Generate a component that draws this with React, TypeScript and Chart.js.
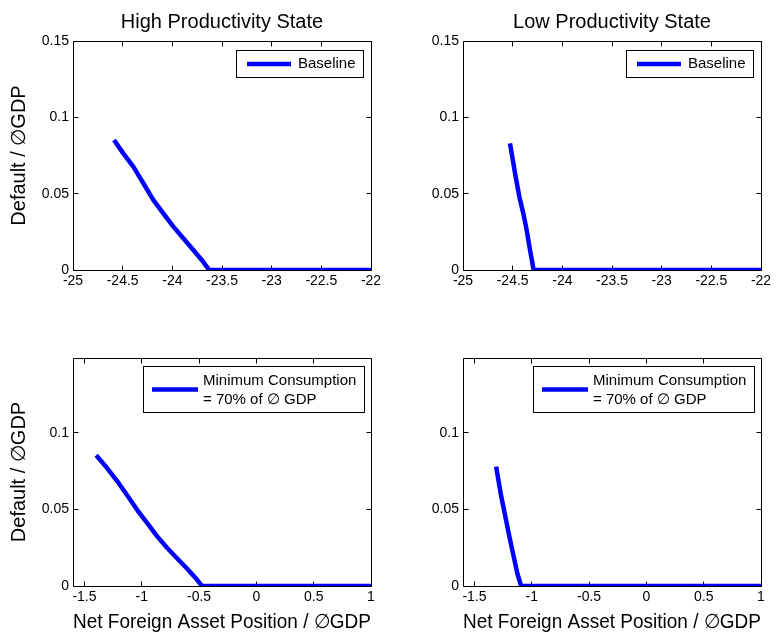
import { useEffect, useRef } from "react";
import { Chart, registerables } from "chart.js";

Chart.register(...registerables);

const FONT = '"Liberation Sans", Arial, Helvetica, sans-serif';
const BLUE = "#0000ff";

// ---- text ----
const TITLES = ["High Productivity State", "Low Productivity State"];
const Y_LABEL = "Default / \u2205GDP";
const X_LABEL = "Net Foreign Asset Position / \u2205GDP";
const LEGEND_TOP = ["Baseline"];
const LEGEND_BOTTOM = ["Minimum Consumption", "= 70% of \u2205 GDP"];

// ---- ticks ----
const X_TICKS_TOP = [-25, -24.5, -24, -23.5, -23, -22.5, -22];
const X_TICKS_BOTTOM = [-1.5, -1, -0.5, 0, 0.5, 1];
const Y_TICKS_TOP = [0, 0.05, 0.1, 0.15];
const Y_TICKS_BOTTOM = [0, 0.05, 0.1];

// ---- data ----
const HIGH_BASE_X = [-24.587, -24.494, -24.393, -24.292, -24.192, -24.091, -23.99, -23.89, -23.789, -23.704, -23.638, -23.63, -22];
const HIGH_BASE_Y = [0.0852, 0.0764, 0.0677, 0.0568, 0.0459, 0.0371, 0.0284, 0.0208, 0.0131, 0.0066, 0.0007, 0, 0];

const LOW_BASE_X = [-24.527, -24.476, -24.433, -24.393, -24.359, -24.325, -24.292, -24.29, -22];
const LOW_BASE_Y = [0.083, 0.0633, 0.048, 0.0371, 0.0262, 0.0131, 0.001, 0, 0];

const HIGH_MIN_X = [-1.398, -1.303, -1.201, -1.114, -1.041, -0.954, -0.867, -0.78, -0.693, -0.606, -0.519, -0.475, 1];
const HIGH_MIN_Y = [0.0854, 0.0771, 0.0672, 0.0578, 0.0498, 0.0412, 0.0326, 0.025, 0.0181, 0.0114, 0.0042, 0, 0];

const LOW_MIN_X = [-1.311, -1.27, -1.235, -1.2, -1.16, -1.125, -1.093, 1];
const LOW_MIN_Y = [0.078, 0.06, 0.047, 0.034, 0.02, 0.008, 0, 0];

type Geo = { right: number; top: number; height: number; padL: number; line: number; gap: number; padR: number; lh: number; dy: number };

const framePlugin = {
  id: "frame",
  beforeDatasetsDraw(chart: any) {
    const { ctx, chartArea: a, scales } = chart;
    const L = Math.floor(a.left) + 0.5;
    const R = Math.floor(a.right) + 0.5;
    const T = Math.floor(a.top) + 0.5;
    const B = Math.floor(a.bottom) + 0.5;
    const tl = 5;
    ctx.save();
    ctx.strokeStyle = "#000";
    ctx.lineWidth = 1;
    ctx.beginPath();
    ctx.rect(L, T, R - L, B - T);
    for (const t of scales.x.ticks) {
      const px = Math.floor(scales.x.getPixelForValue(t.value)) + 0.5;
      ctx.moveTo(px, B);
      ctx.lineTo(px, B - tl);
      ctx.moveTo(px, T);
      ctx.lineTo(px, T + tl);
    }
    for (const t of scales.y.ticks) {
      const py = Math.floor(scales.y.getPixelForValue(t.value)) + 0.5;
      ctx.moveTo(L, py);
      ctx.lineTo(L + tl, py);
      ctx.moveTo(R, py);
      ctx.lineTo(R - tl, py);
    }
    ctx.stroke();
    ctx.restore();
  },
};

function legendPlugin(lines: string[], g: Geo) {
  return {
    id: "boxLegend",
    afterDraw(chart: any) {
      const { ctx, chartArea: a } = chart;
      ctx.save();
      ctx.font = `15px ${FONT}`;
      const tw = Math.max(...lines.map((l) => ctx.measureText(l).width));
      const w = Math.round(g.padL + g.line + g.gap + tw + g.padR);
      const right = Math.floor(a.right - g.right);
      const left = right - w;
      const top = Math.floor(a.top + g.top);
      ctx.fillStyle = "#fff";
      ctx.fillRect(left, top, w, g.height);
      ctx.strokeStyle = "#000";
      ctx.lineWidth = 1;
      ctx.strokeRect(left + 0.5, top + 0.5, w, g.height);
      const cy = top + g.height / 2 + 0.5;
      ctx.strokeStyle = BLUE;
      ctx.lineWidth = 4.5;
      ctx.beginPath();
      ctx.moveTo(left + g.padL, cy);
      ctx.lineTo(left + g.padL + g.line, cy);
      ctx.stroke();
      ctx.fillStyle = "#000";
      ctx.textAlign = "left";
      ctx.textBaseline = "middle";
      lines.forEach((l, i) => {
        ctx.fillText(l, left + g.padL + g.line + g.gap, cy + g.dy + (i - (lines.length - 1) / 2) * g.lh);
      });
      ctx.restore();
    },
  };
}

type PanelCfg = {
  left: number; top: number; width: number; height: number;
  title?: string; xLabel?: string; yLabel?: string;
  xMin: number; xMax: number; yMax: number;
  xTicks: number[]; yTicks: number[];
  xs: number[]; ys: number[];
  legend: string[]; geo: Geo;
  padTop: number; padRight: number; xAxisHeight: number;
};

const GEO_TOP: Geo = { right: 8, top: 9, height: 27, padL: 11, line: 44, gap: 7, padR: 7, lh: 19, dy: 0 };
const GEO_BOTTOM: Geo = { right: 7, top: 8, height: 46, padL: 9, line: 46, gap: 5, padR: 8, lh: 19, dy: 1 };

const PANELS: PanelCfg[] = [
  { left: 0, top: 0, width: 390, height: 300, title: TITLES[0], yLabel: Y_LABEL, xMin: -25, xMax: -22, yMax: 0.15, xTicks: X_TICKS_TOP, yTicks: Y_TICKS_TOP, xs: HIGH_BASE_X, ys: HIGH_BASE_Y, legend: LEGEND_TOP, geo: GEO_TOP, padTop: 0, padRight: 19, xAxisHeight: 30 },
  { left: 390, top: 0, width: 391, height: 300, title: TITLES[1], xMin: -25, xMax: -22, yMax: 0.15, xTicks: X_TICKS_TOP, yTicks: Y_TICKS_TOP, xs: LOW_BASE_X, ys: LOW_BASE_Y, legend: LEGEND_TOP, geo: GEO_TOP, padTop: 0, padRight: 20, xAxisHeight: 30 },
  { left: 0, top: 300, width: 390, height: 332, xLabel: X_LABEL, yLabel: Y_LABEL, xMin: -1.6, xMax: 1, yMax: 0.149, xTicks: X_TICKS_BOTTOM, yTicks: Y_TICKS_BOTTOM, xs: HIGH_MIN_X, ys: HIGH_MIN_Y, legend: LEGEND_BOTTOM, geo: GEO_BOTTOM, padTop: 58, padRight: 19, xAxisHeight: 46 },
  { left: 390, top: 300, width: 391, height: 332, xLabel: X_LABEL, xMin: -1.6, xMax: 1, yMax: 0.149, xTicks: X_TICKS_BOTTOM, yTicks: Y_TICKS_BOTTOM, xs: LOW_MIN_X, ys: LOW_MIN_Y, legend: LEGEND_BOTTOM, geo: GEO_BOTTOM, padTop: 58, padRight: 20, xAxisHeight: 46 },
];

function Panel({ cfg }: { cfg: PanelCfg }) {
  const ref = useRef<HTMLCanvasElement | null>(null);
  useEffect(() => {
    if (!ref.current) return;
    const chart = new Chart(ref.current, {
      type: "line",
      data: {
        datasets: [
          {
            data: cfg.xs.map((x, i) => ({ x, y: cfg.ys[i] })),
            borderColor: BLUE,
            borderWidth: 4.5,
            pointRadius: 0,
            tension: 0,
            fill: false,
            borderJoinStyle: "round",
          },
        ],
      },
      options: {
        animation: false,
        responsive: false,
        devicePixelRatio: 1,
        events: [],
        layout: { padding: { top: cfg.padTop, right: cfg.padRight, left: 0, bottom: 0 } },
        plugins: {
          legend: { display: false },
          tooltip: { enabled: false },
          title: cfg.title
            ? {
                display: true,
                fullSize: false,
                text: cfg.title,
                color: "#000",
                font: { family: FONT, size: 20, weight: "normal", lineHeight: 1 },
                padding: { top: 12, bottom: 9 },
              }
            : { display: false },
        },
        scales: {
          x: {
            type: "linear",
            min: cfg.xMin,
            max: cfg.xMax,
            afterBuildTicks: (s: any) => {
              s.ticks = cfg.xTicks.map((v) => ({ value: v }));
            },
            afterFit: (s: any) => {
              s.height = cfg.xAxisHeight;
            },
            grid: { display: false, drawTicks: false },
            border: { display: false },
            ticks: {
              color: "#000",
              font: { family: FONT, size: 14 },
              padding: 3,
              autoSkip: false,
              maxRotation: 0,
              callback: (v: any) => String(v),
            },
            title: {
              display: !!cfg.xLabel,
              text: cfg.xLabel || "",
              color: "#000",
              font: { family: FONT, size: 20, lineHeight: 1 },
              padding: { top: 0, bottom: 0 },
            },
          },
          y: {
            type: "linear",
            min: 0,
            max: cfg.yMax,
            afterBuildTicks: (s: any) => {
              s.ticks = cfg.yTicks.map((v) => ({ value: v }));
            },
            afterFit: (s: any) => {
              s.width = 73;
            },
            grid: { display: false, drawTicks: false },
            border: { display: false },
            ticks: {
              color: "#000",
              font: { family: FONT, size: 14 },
              padding: 4,
              callback: (v: any) => String(v),
            },
            title: {
              display: !!cfg.yLabel,
              text: cfg.yLabel || "",
              color: "#000",
              font: { family: FONT, size: 20, lineHeight: 1 },
              padding: { top: 9, bottom: 0 },
            },
          },
        },
      } as any,
      plugins: [framePlugin, legendPlugin(cfg.legend, cfg.geo)],
    });
    return () => chart.destroy();
  }, [cfg]);
  return (
    <canvas
      ref={ref}
      width={cfg.width}
      height={cfg.height}
      style={{ position: "absolute", left: cfg.left, top: cfg.top, width: cfg.width, height: cfg.height }}
    />
  );
}

export default function App() {
  return (
    <div style={{ position: "absolute", left: 0, top: 0, width: 781, height: 632, background: "#fff", overflow: "hidden" }}>
      {PANELS.map((p, i) => (
        <Panel key={i} cfg={p} />
      ))}
    </div>
  );
}
